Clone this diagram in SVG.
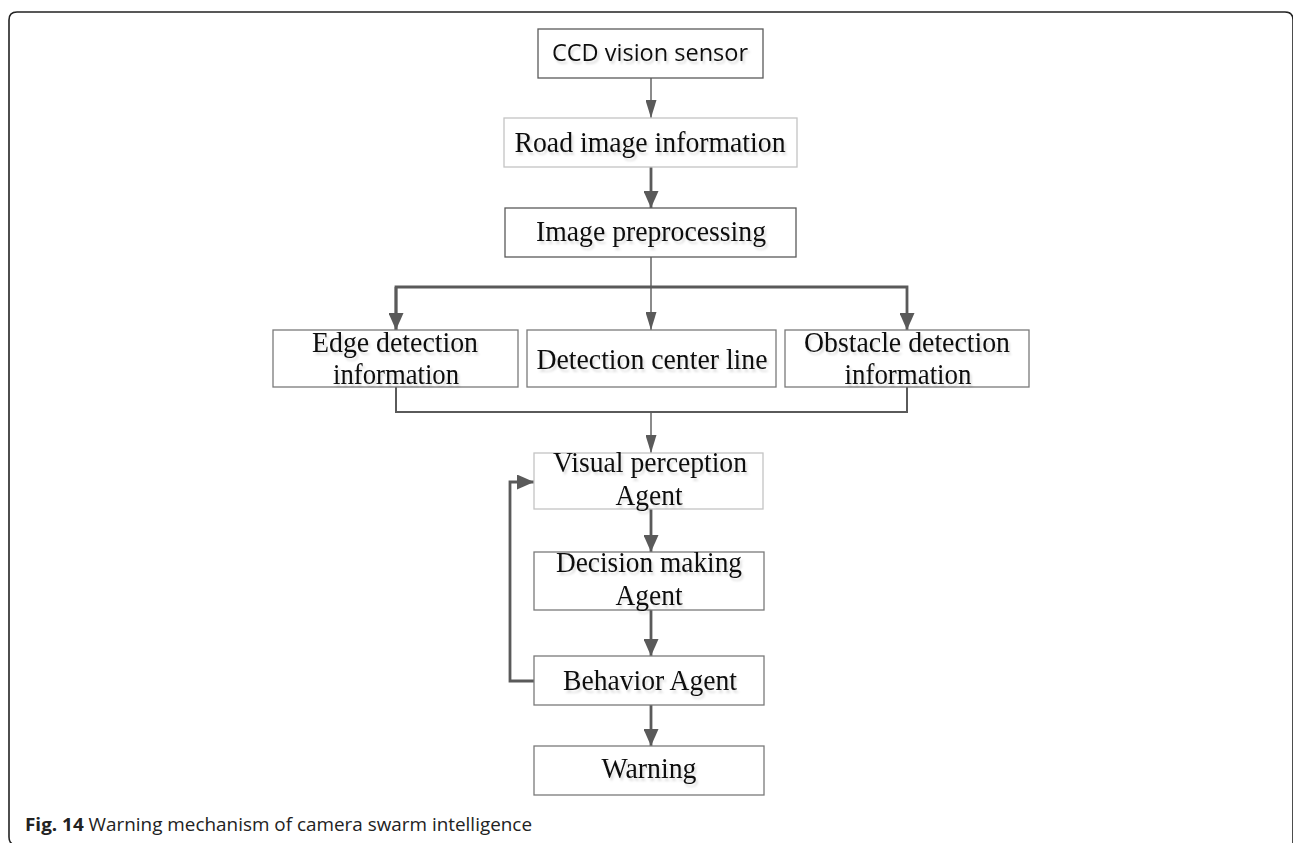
<svg xmlns="http://www.w3.org/2000/svg" width="1293" height="843" viewBox="0 0 1293 843">
<style>
.box{fill:#fff;stroke:#5a5a5a;stroke-width:1.3}
.lbox{fill:#fff;stroke:#c4c4c4;stroke-width:1.3}
.mbox{fill:#fff;stroke:#7a7a7a;stroke-width:1.3}
.t{font-family:"Liberation Serif",serif;font-size:29px;fill:#111;text-anchor:middle;filter:url(#sh)}
.t3{font-family:"Liberation Serif",serif;font-size:30px;fill:#111;text-anchor:middle;filter:url(#sh)}
.s{font-family:"Open Sans","Liberation Sans",sans-serif;font-size:23.5px;fill:#111;text-anchor:middle;filter:url(#sh)}
.c{stroke:#5a5a5a;fill:none;stroke-width:1.4}
.cm{stroke:#5a5a5a;fill:none;stroke-width:2}
.ct{stroke:#5a5a5a;fill:none;stroke-width:2.8}
.cap{font-family:"Open Sans","Liberation Sans",sans-serif;font-size:18px;fill:#222}
</style>
<defs>
<filter id="sh" x="-5%" y="-20%" width="115%" height="150%">
<feDropShadow dx="2" dy="3" stdDeviation="0.8" flood-color="#000" flood-opacity="0.13"/>
</filter>
<marker id="ah" viewBox="0 0 18 11" refX="18" refY="5.5" markerWidth="18" markerHeight="11" markerUnits="userSpaceOnUse" orient="auto">
<path d="M0,0 L18,5.5 L0,11 Z" fill="#5a5a5a"/>
</marker>
<marker id="ahb" viewBox="0 0 17 15" refX="17" refY="7.5" markerWidth="17" markerHeight="15" markerUnits="userSpaceOnUse" orient="auto">
<path d="M0,0 L17,7.5 L0,15 Z" fill="#5a5a5a"/>
</marker>
</defs>
<rect width="1293" height="843" fill="#fff"/>
<path d="M17,845 Q9,845 9,837 L9,20 Q9,12 17,12 L1285,12 Q1293,12 1293,20 L1293,845" fill="none" stroke="#222" stroke-width="1.6"/>

<g id="connectors">
<line class="c" x1="651" y1="78" x2="651" y2="118" marker-end="url(#ah)"/>
<line class="ct" x1="651" y1="167" x2="651" y2="208" marker-end="url(#ahb)"/>
<line class="c" x1="651" y1="257" x2="651" y2="330" marker-end="url(#ah)"/>
<path class="ct" d="M396,330 L396,287 L907,287 L907,330" marker-end="url(#ahb)"/>
<path class="ct" d="M396,287 L396,330" marker-end="url(#ahb)"/>
<path class="cm" d="M396,387 L396,412 L907,412 L907,387"/>
<line class="c" x1="651" y1="412" x2="651" y2="453" marker-end="url(#ah)"/>
<line class="ct" x1="651" y1="509" x2="651" y2="552" marker-end="url(#ahb)"/>
<line class="ct" x1="651" y1="610" x2="651" y2="656" marker-end="url(#ahb)"/>
<line class="ct" x1="651" y1="705" x2="651" y2="746" marker-end="url(#ahb)"/>
<path class="ct" d="M534,681 L510,681 L510,482 L534,482" marker-end="url(#ahb)"/>
</g>

<g id="n-ccd">
<rect class="box" x="538" y="29" width="225" height="49"/>
<text class="s" x="650" y="61" textLength="196" lengthAdjust="spacingAndGlyphs">CCD vision sensor</text>
</g>
<g id="n-road">
<rect class="lbox" x="504" y="118" width="293" height="49"/>
<text class="t" x="650" y="152" textLength="271" lengthAdjust="spacingAndGlyphs">Road image information</text>
</g>
<g id="n-pre">
<rect class="box" x="505" y="208" width="291" height="49"/>
<text class="t" x="651" y="241" textLength="230" lengthAdjust="spacingAndGlyphs">Image preprocessing</text>
</g>
<g id="n-edge">
<rect class="mbox" x="273" y="330" width="245" height="57"/>
<text class="t3" x="395" y="352" textLength="166" lengthAdjust="spacingAndGlyphs">Edge detection</text>
<text class="t3" x="396" y="384" textLength="126" lengthAdjust="spacingAndGlyphs">information</text>
</g>
<g id="n-center">
<rect class="mbox" x="527" y="330" width="249" height="57"/>
<text class="t3" x="652" y="369" textLength="231" lengthAdjust="spacingAndGlyphs">Detection center line</text>
</g>
<g id="n-obstacle">
<rect class="mbox" x="785" y="330" width="244" height="57"/>
<text class="t3" x="907" y="352" textLength="206" lengthAdjust="spacingAndGlyphs">Obstacle detection</text>
<text class="t3" x="908" y="384" textLength="127" lengthAdjust="spacingAndGlyphs">information</text>
</g>
<g id="n-visual">
<rect class="lbox" x="534" y="453" width="229" height="56"/>
<text class="t" x="650" y="472" textLength="194" lengthAdjust="spacingAndGlyphs">Visual perception</text>
<text class="t" x="649" y="505" textLength="67" lengthAdjust="spacingAndGlyphs">Agent</text>
</g>
<g id="n-decision">
<rect class="mbox" x="534" y="552" width="230" height="58"/>
<text class="t" x="649" y="572" textLength="186" lengthAdjust="spacingAndGlyphs">Decision making</text>
<text class="t" x="649" y="605" textLength="67" lengthAdjust="spacingAndGlyphs">Agent</text>
</g>
<g id="n-behavior">
<rect class="mbox" x="534" y="656" width="230" height="49"/>
<text class="t" x="650" y="690" textLength="174" lengthAdjust="spacingAndGlyphs">Behavior Agent</text>
</g>
<g id="n-warning">
<rect class="mbox" x="534" y="746" width="230" height="49"/>
<text class="t" x="649" y="778" textLength="95" lengthAdjust="spacingAndGlyphs">Warning</text>
</g>
<text class="cap" x="25" y="831" textLength="507" lengthAdjust="spacingAndGlyphs"><tspan font-weight="bold">Fig. 14</tspan> Warning mechanism of camera swarm intelligence</text>
</svg>
